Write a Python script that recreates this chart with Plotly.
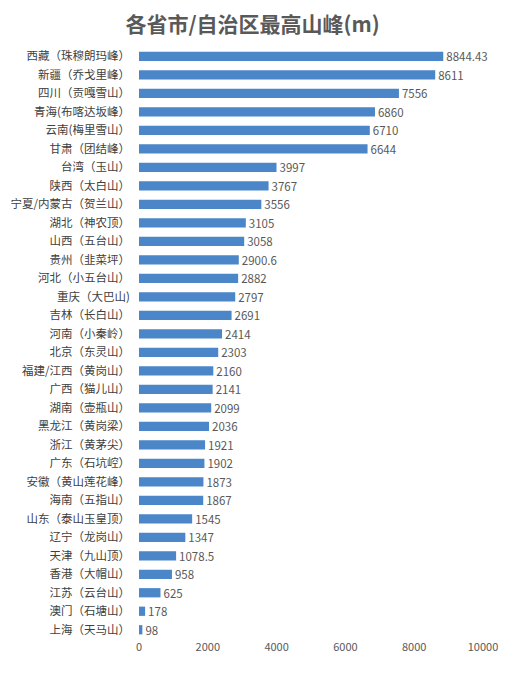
import plotly.graph_objects as go

categories = [
    "西藏（珠穆朗玛峰）", "新疆（乔戈里峰）", "四川（贡嘎雪山）", "青海(布喀达坂峰）",
    "云南(梅里雪山）", "甘肃（团结峰）", "台湾（玉山）", "陕西（太白山）",
    "宁夏/内蒙古（贺兰山）", "湖北（神农顶）", "山西（五台山）", "贵州（韭菜坪）",
    "河北（小五台山）", "重庆（大巴山)", "吉林（长白山）", "河南（小秦岭）",
    "北京（东灵山）", "福建/江西（黄岗山）", "广西（猫儿山）", "湖南（壶瓶山）",
    "黑龙江（黄岗梁）", "浙江（黄茅尖）", "广东（石坑崆）", "安徽（黄山莲花峰）",
    "海南（五指山）", "山东（泰山玉皇顶）", "辽宁（龙岗山）", "天津（九山顶）",
    "香港（大帽山）", "江苏（云台山）", "澳门（石塘山）", "上海（天马山）",
]
heights = [
    8844.43, 8611, 7556, 6860, 6710, 6644, 3997, 3767,
    3556, 3105, 3058, 2900.6, 2882, 2797, 2691, 2414,
    2303, 2160, 2141, 2099, 2036, 1921, 1902, 1873,
    1867, 1545, 1347, 1078.5, 958, 625, 178, 98,
]
x_ticks = [0, 2000, 4000, 6000, 8000, 10000]
x_tick_labels = ["0", "2000", "4000", "6000", "8000", "10000"]
title_text = "各省市/自治区最高山峰(m)"

font_family = "Noto Sans CJK SC, Noto Sans, sans-serif"

fig = go.Figure(
    go.Bar(
        x=heights,
        y=categories,
        orientation="h",
        marker=dict(color="#4a86c8", line=dict(width=0)),
        text=[f"{v:g}" for v in heights],
        textposition="outside",
        constraintext="none",
        textfont=dict(size=11.5, color="#595959", family=font_family),
        cliponaxis=False,
    )
)

fig.update_layout(
    width=498,
    height=678,
    paper_bgcolor="white",
    plot_bgcolor="white",
    margin=dict(l=131, r=23, t=39, b=47),
    bargap=0.5,
    showlegend=False,
    title=dict(
        text=f"<b>{title_text}</b>",
        x=0.491,
        xanchor="center",
        y=0.976,
        yanchor="middle",
        font=dict(size=21, color="#595959", family=font_family),
    ),
    xaxis=dict(
        range=[0, 10000],
        tickvals=x_ticks,
        ticktext=x_tick_labels,
        showgrid=False,
        zeroline=False,
        showline=False,
        ticks="",
        automargin=False,
        tickfont=dict(size=11, color="#595959", family=font_family),
    ),
    yaxis=dict(
        autorange="reversed",
        showgrid=False,
        showline=False,
        ticks="",
        automargin=False,
        ticklabelstandoff=8,
        tickfont=dict(size=11.5, color="#404040", family=font_family),
    ),
)

fig.write_html("out.html")
